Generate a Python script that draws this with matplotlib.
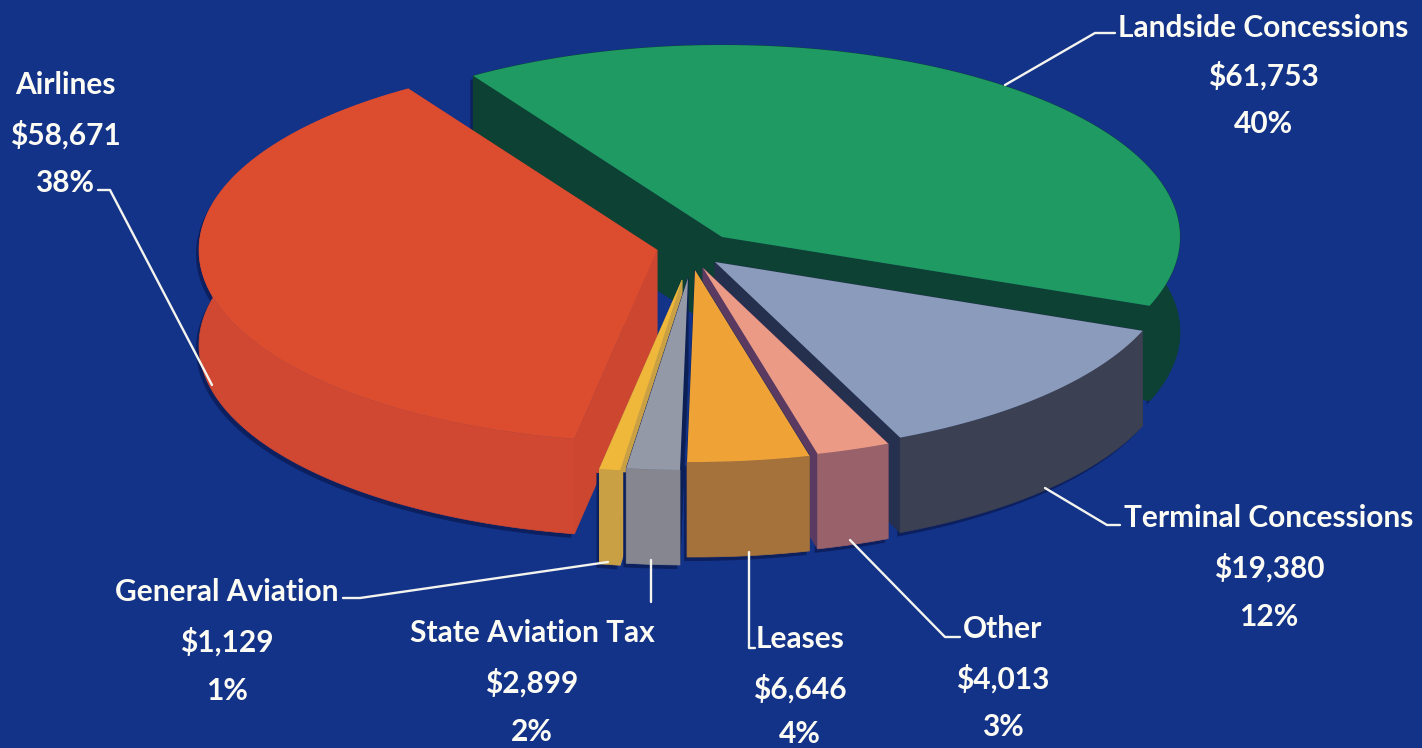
#!/usr/bin/env python3
import numpy as np
import matplotlib
matplotlib.use("Agg")
import matplotlib.pyplot as plt
from matplotlib.patches import Polygon

names = ["Landside Concessions", "Airlines", "General Aviation", "State Aviation Tax",
         "Leases", "Other", "Terminal Concessions"]
values = [61753, 58671, 1129, 2899, 6646, 4013, 19380]
money = ["$61,753", "$58,671", "$1,129", "$2,899", "$6,646", "$4,013", "$19,380"]
pcts = ["40%", "38%", "1%", "2%", "4%", "3%", "12%"]

# look of the pie, in picture pixels
top_col = ["#1f9a63", "#dc4d30", "#efb83a", "#9499a8", "#efa336", "#eb9a86", "#8b9bbb"]
side_col = ["#0c4133", "#d04832", "#c9a044", "#85868f", "#a5723c", "#99616a", "#3b4052"]
cut_col = ["#0c4133", "#cc4630", "#c9a044", "#0b1f55", "#0b1f55", "#5a3a60", "#252f4e"]
centers = [(722, 237), (657, 250), (682, 280), (688, 278), (695, 270), (703, 268), (715, 262)]
rx = 458
ry = 192
depth = 95
start = -21
draw_order = [0, 6, 5, 4, 1, 2, 3]

label_x = [1263, 65, 227, 532, 800, 1003, 1269]
label_y = [(28, 76, 124), (85, 135, 183), (592, 642, 691), (633, 683, 732),
           (639, 689, 734), (629, 679, 727), (518, 568, 617)]
leaders = [([1115, 1095, 1005], [33, 33, 85]),
           ([98, 110, 212], [190, 190, 385]),
           ([343, 360, 608], [598, 598, 562]),
           ([651, 651], [560, 602]),
           ([755, 749, 749], [648, 648, 552]),
           ([960, 945, 850], [637, 637, 540]),
           ([1120, 1107, 1045], [525, 525, 488])]

fig = plt.figure(figsize=(14.22, 7.48), dpi=100, facecolor="#133389")
ax = fig.add_axes([0, 0, 1, 1])
ax.set_xlim(0, 1422)
ax.set_ylim(748, 0)
ax.axis("off")

angles = start + 360 * np.cumsum([0] + values) / sum(values)

for i in draw_order:
    cx, cy = centers[i]
    t = np.radians(np.linspace(angles[i], angles[i + 1], 120))
    xs = cx + rx * np.cos(t)
    ys = cy - ry * np.sin(t)
    top = np.column_stack([np.r_[cx, xs], np.r_[cy, ys]])
    rim = np.column_stack([np.r_[xs, xs[::-1]], np.r_[ys, ys[::-1] + depth]])
    # soft dark edge under the slice
    ax.add_patch(Polygon(rim + [-3, 4], fc="#0c2060", ec="none"))
    for k in (0, -1):
        face = [(cx, cy), (xs[k], ys[k]), (xs[k], ys[k] + depth), (cx, cy + depth)]
        ax.add_patch(Polygon(face, fc=cut_col[i], ec=cut_col[i], lw=0.5))
    ax.add_patch(Polygon(rim, fc=side_col[i], ec=side_col[i], lw=0.5))
    ax.add_patch(Polygon(top, fc=top_col[i], ec="none"))

for lx, ly in leaders:
    ax.plot(lx, ly, color="#f4f4ee", lw=1.7, solid_capstyle="round", zorder=50)

for i in range(len(names)):
    lines = [names[i], money[i], pcts[i]]
    for s, y in zip(lines, label_y[i]):
        ax.text(label_x[i], y, s, color="#fdfcf4", fontsize=21.5, fontweight="bold",
                family=["Lato", "DejaVu Sans"], ha="center", va="center", zorder=60)

fig.savefig("out.png", dpi=100, facecolor=fig.get_facecolor())
